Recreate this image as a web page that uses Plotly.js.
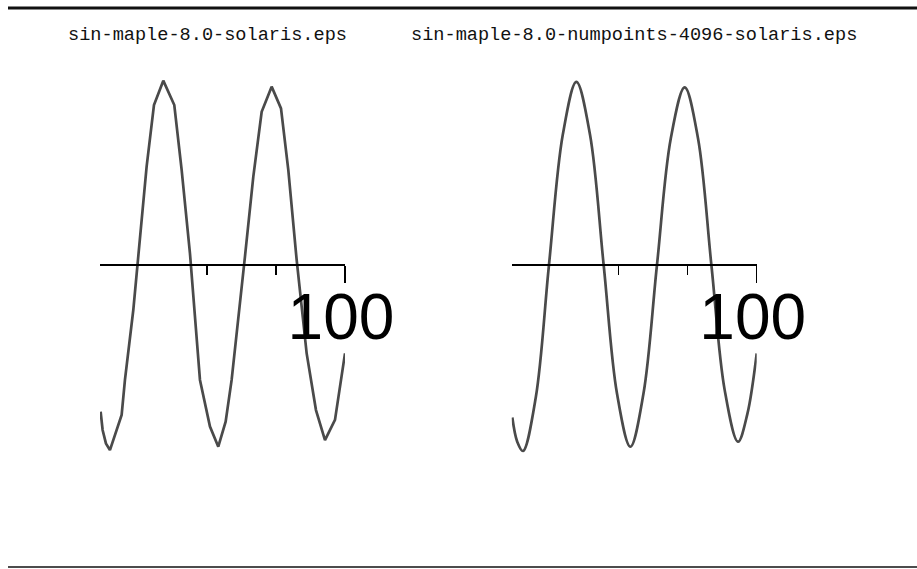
<!DOCTYPE html>
<html>
<head>
<meta charset="utf-8">
<script src="https://cdn.plot.ly/plotly-3.0.1.min.js"></script>
<style>
  html, body { margin: 0; padding: 0; background: #fff; }
  #myDiv { width: 917px; height: 569px; }
</style>
</head>
<body>
<div id="myDiv"></div>
<script>
// Titulos de los dos paneles
const titles = ["sin-maple-8.0-solaris.eps", "sin-maple-8.0-numpoints-4096-solaris.eps"];

// Panel izquierdo: poligonal con pocos puntos
const xFew = [29.18, 29.76, 30.72, 31.88, 35.27, 36.23, 38.65, 41.06, 42.51, 44.64,
  47.34, 50.53, 52.66, 55.07, 57.97, 60.87, 63.28, 65.41, 67.15, 71.01,
  73.43, 75.85, 78.74, 81.45, 83.57, 85.99, 88.89, 91.59, 94.2, 97.1, 100];
const yFew = [-0.789, -0.887, -0.959, -0.995, -0.806, -0.618, -0.242, 0.242, 0.529, 0.86,
  0.991, 0.86, 0.511, 0.063, -0.618, -0.869, -0.977, -0.842, -0.618, 0.045,
  0.475, 0.824, 0.959, 0.842, 0.511, 0.027, -0.475, -0.78, -0.941, -0.833, -0.475];

// Panel derecho: curva suave (numpoints=4096)
const xMany = [29.18, 30.6, 32.26, 36.0, 39.8, 43.8, 47.74, 51.7, 55.65, 59.5,
  63.39, 67.2, 71.1, 75.1, 79.13, 83.0, 86.87, 90.7, 94.58, 97.3, 100];
const yMany = [-0.82, -0.95, -1.0, -0.71, 0, 0.7, 0.985, 0.7, 0, -0.69,
  -0.977, -0.69, 0, 0.68, 0.955, 0.68, 0, -0.67, -0.95, -0.8, -0.475];

// Ticks del eje x
const majorTicks = [100];
const majorText = ["100"];
const minorTicks = [60, 80];

const lineColor = "#4a4a4a";

const trace1 = {
  type: "scatter",
  mode: "lines",
  x: xFew,
  y: yFew,
  xaxis: "x",
  yaxis: "y",
  line: { color: lineColor, width: 2.7 },
  hoverinfo: "skip",
};

const trace2 = {
  type: "scatter",
  mode: "lines",
  x: xMany,
  y: yMany,
  xaxis: "x2",
  yaxis: "y2",
  line: { color: lineColor, width: 2.7, shape: "spline", smoothing: 1 },
  hoverinfo: "skip",
};

// Eje x comun a ambos paneles (solo cambia el dominio)
function xAxis(domain) {
  return {
    domain: domain,
    range: [29, 100],
    anchor: "free",
    position: 1 - 265 / 569,
    showline: true,
    linecolor: "#000",
    linewidth: 2,
    showgrid: false,
    zeroline: false,
    ticks: "outside",
    ticklen: 17,
    tickwidth: 1.5,
    tickcolor: "#000",
    tickmode: "array",
    tickvals: majorTicks,
    ticktext: majorText,
    tickfont: { family: "Liberation Sans, Arial", size: 64, color: "#000" },
    ticklabelstandoff: -21,
    ticklabelshift: -4,
    minor: { ticks: "outside", tickvals: minorTicks, ticklen: 9, tickwidth: 1.5, tickcolor: "#000", showgrid: false },
    fixedrange: true,
  };
}

function yAxis(anchor) {
  return {
    domain: [1 - 462 / 569, 1 - 70 / 569],
    range: [-1.0591, 1.0484],
    anchor: anchor,
    visible: false,
    fixedrange: true,
  };
}

const titleFont = { family: "Liberation Mono, Courier New, monospace", size: 18.6, color: "#111" };

const layout = {
  width: 917,
  height: 569,
  margin: { l: 0, r: 0, t: 0, b: 0 },
  paper_bgcolor: "#fff",
  plot_bgcolor: "rgba(0,0,0,0)",
  showlegend: false,
  xaxis: xAxis([100 / 917, 345 / 917]),
  yaxis: yAxis("x"),
  xaxis2: xAxis([511.7 / 917, 756.7 / 917]),
  yaxis2: yAxis("x2"),
  annotations: [
    { text: titles[0], xref: "paper", yref: "paper", x: 207.5 / 917, y: 1 - 35 / 569, xanchor: "center", yanchor: "middle", showarrow: false, font: titleFont },
    { text: titles[1], xref: "paper", yref: "paper", x: 634 / 917, y: 1 - 35 / 569, xanchor: "center", yanchor: "middle", showarrow: false, font: titleFont },
  ],
  shapes: [
    { type: "line", xref: "paper", yref: "paper", x0: 8 / 917, x1: 1, y0: 1 - 8 / 569, y1: 1 - 8 / 569, line: { color: "#111", width: 3 } },
    { type: "line", xref: "paper", yref: "paper", x0: 8 / 917, x1: 1, y0: 1 - 567 / 569, y1: 1 - 567 / 569, line: { color: "#111", width: 1.5 } },
  ],
};

Plotly.newPlot("myDiv", [trace1, trace2], layout, { displayModeBar: false, staticPlot: true });
</script>
</body>
</html>
